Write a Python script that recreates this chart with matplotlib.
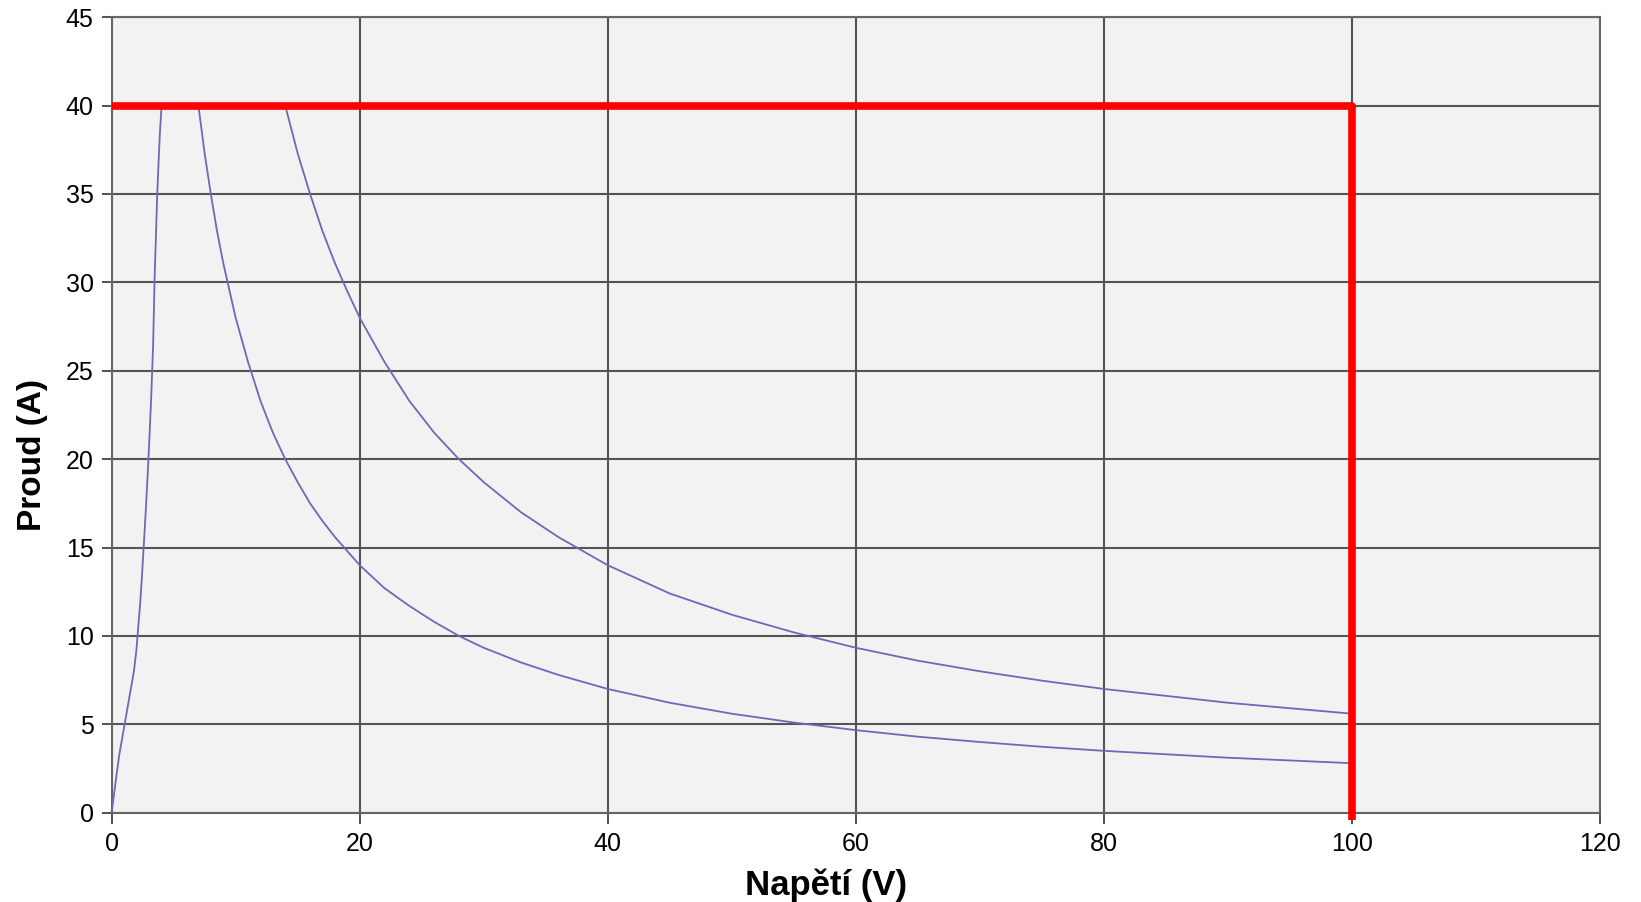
import matplotlib.pyplot as plt

# napeti / proud
rise_v = [0, 0.3, 0.6, 1.05, 1.4, 1.8, 2.0, 2.15, 2.3, 2.45, 2.6, 2.75, 2.9,
          3.05, 3.2, 3.35, 3.46, 3.57, 3.68, 3.8, 3.9, 4.03]
rise_i = [0, 1.6, 3.2, 5.0, 6.4, 8.0, 9.2, 10.5, 11.8, 13.4, 15.2, 17.0, 19.0,
          21.2, 23.6, 26.5, 30.0, 32.5, 35.0, 37.0, 38.5, 40.0]

low_v = [7, 7.5, 8, 8.5, 9, 10, 11, 12, 13, 14, 15, 16, 17, 18, 20, 22, 24, 26,
         28, 30, 33, 36, 40, 45, 50, 55, 60, 65, 70, 75, 80, 90, 100]
low_i = [40, 37.3, 35, 32.9, 31.1, 28, 25.5, 23.3, 21.5, 20, 18.7, 17.5, 16.5,
         15.6, 14, 12.7, 11.7, 10.8, 10, 9.33, 8.5, 7.8, 7, 6.22, 5.6, 5.1,
         4.67, 4.3, 4, 3.73, 3.5, 3.11, 2.8]

high_v = [14, 15, 16, 17, 18, 19, 20, 22, 24, 26, 28, 30, 33, 36, 40, 45, 50,
          55, 60, 65, 70, 75, 80, 90, 100]
high_i = [40, 37.3, 35, 32.9, 31.1, 29.5, 28, 25.5, 23.3, 21.5, 20, 18.7, 17,
          15.6, 14, 12.4, 11.2, 10.2, 9.33, 8.6, 8, 7.47, 7, 6.22, 5.6]

limit_v = [0, 100, 100]
limit_i = [40, 40, -0.4]

plt.rcParams['font.family'] = ['Liberation Sans', 'DejaVu Sans']

fig = plt.figure(figsize=(16.41, 9.02), dpi=100)
ax = fig.add_axes([0.068, 0.099, 0.907, 0.882])
ax.set_facecolor('#f2f2f2')

curve_color = '#6a6ab8'
ax.plot(rise_v, rise_i, color=curve_color, lw=1.3, zorder=3)
ax.plot(low_v, low_i, color=curve_color, lw=1.3, zorder=3)
ax.plot(high_v, high_i, color=curve_color, lw=1.3, zorder=3)

ax.plot(limit_v, limit_i, color='#ff0000', lw=5.5, solid_capstyle='butt',
        clip_on=False, zorder=4)

ax.set_xlim(0, 120)
ax.set_ylim(0, 45)
ax.set_xticks(range(0, 121, 20))
ax.set_yticks(range(0, 46, 5))
ax.grid(True, color='#555555', lw=1.5, zorder=1)
ax.set_axisbelow(True)

for s in ax.spines.values():
    s.set_color('#666666')
    s.set_linewidth(1.5)

ax.tick_params(axis='both', labelsize=18, color='#444444', width=1.3)
ax.tick_params(axis='x', length=8, pad=6)
ax.tick_params(axis='y', length=7, pad=6)

ax.set_xlabel('Napětí (V)', fontsize=25, fontweight='bold')
ax.set_ylabel('Proud (A)', fontsize=24, fontweight='bold')
ax.xaxis.set_label_coords(0.48, -0.07)
ax.yaxis.set_label_coords(-0.043, 0.45)

plt.savefig('out.png', dpi=100)
